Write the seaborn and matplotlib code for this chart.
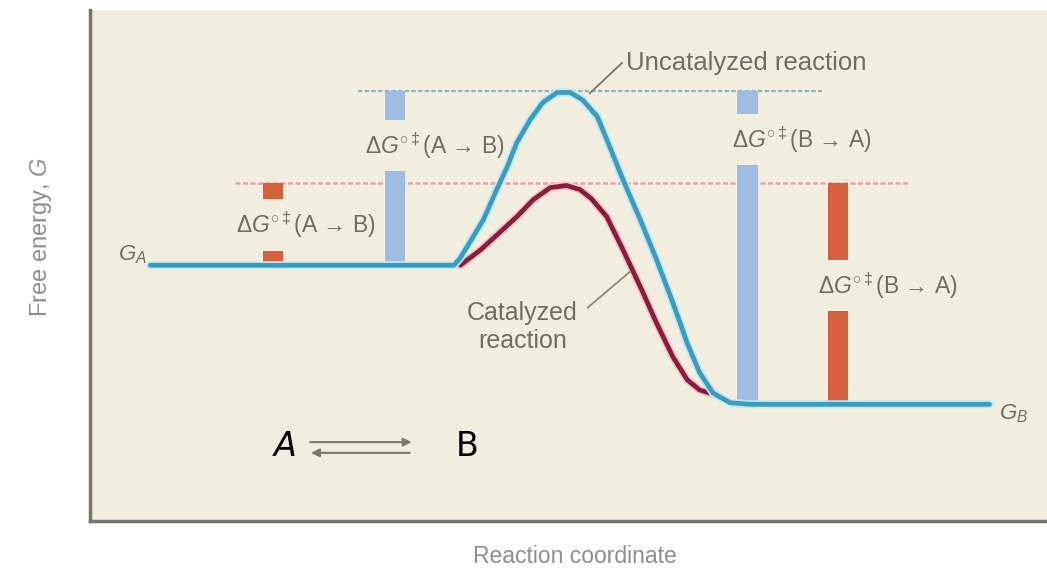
import matplotlib
matplotlib.use("Agg")
import matplotlib.pyplot as plt
import matplotlib.patheffects as pe
import seaborn as sns

# Free energy profile (reaction coordinate 0-100, energy 0-100)
uncat_x = [6.3, 38.0, 38.6, 39.4, 41.1, 42.5, 43.6, 44.6, 46.0, 47.3, 48.8, 50.2,
           51.5, 53.0, 54.0, 55.7, 57.5, 59.2, 60.9, 62.4, 63.7, 65.1, 66.9, 69.0,
           94.0]
uncat_y = [50.0, 50.0, 51.2, 53.6, 58.9, 64.8, 69.3, 74.0, 78.5, 81.8, 83.8, 83.8,
           82.3, 79.1, 74.6, 66.7, 58.9, 51.1, 42.7, 34.8, 29.0, 25.0, 23.1, 22.8,
           22.8]
cat_x = [38.7, 40.8, 42.8, 44.6, 46.3, 48.1, 49.8, 51.2, 52.4, 54.0, 55.7, 57.5,
         59.2, 60.9, 62.4, 63.7, 65.1]
cat_y = [50.0, 53.0, 56.4, 59.5, 62.8, 65.2, 65.6, 64.8, 63.0, 59.5, 53.0, 45.8,
         38.7, 32.1, 27.6, 25.6, 24.8]

G_A = 50.0
G_B = 22.8
uncat_peak = 84.0
cat_peak = 66.0

# activation energy bars: position and bottom (top is the peak level)
blue_bar_x = [31.9, 68.7]
blue_bar_bottom = [G_A, G_B]
red_bar_x = [19.1, 78.2]
red_bar_bottom = [G_A, G_B]

bar_labels_blue = [r"Δ$G^{\circ\ddagger}$(A → B)", r"Δ$G^{\circ\ddagger}$(B → A)"]
bar_labels_red = [r"Δ$G^{\circ\ddagger}$(A → B)", r"Δ$G^{\circ\ddagger}$(B → A)"]

panel = "#f2eedf"
blue = "#3a9dbd"
maroon = "#8a1c3c"
bar_blue = "#9ebde3"
bar_red = "#d6603d"
grey_text = "#6e6e66"

sns.set_theme(style="white")
plt.rcParams["font.family"] = ["Liberation Sans", "DejaVu Sans"]
plt.rcParams["mathtext.fontset"] = "custom"
plt.rcParams["mathtext.rm"] = "Liberation Sans"
plt.rcParams["mathtext.it"] = "Liberation Sans:italic"

fig = plt.figure(figsize=(10.47, 5.68), dpi=100)
ax = fig.add_axes([0.086, 0.083, 0.914, 0.9])
ax.set_facecolor(panel)
ax.set_xlim(0, 100)
ax.set_ylim(0, 100)

# reference energy levels (dotted)
ax.hlines(uncat_peak, 28.0, 76.5, color="#8fb5c6", lw=1.6, linestyles=(0, (2, 1)), zorder=1)
ax.hlines(cat_peak, 15.2, 85.7, color="#e3a3aa", lw=1.8, linestyles=(0, (2, 1)), zorder=1)

# bars
ax.bar(blue_bar_x, [uncat_peak - b for b in blue_bar_bottom], bottom=blue_bar_bottom,
       width=2.1, color=bar_blue, linewidth=0, zorder=2)
ax.bar(red_bar_x, [cat_peak - b for b in red_bar_bottom], bottom=red_bar_bottom,
       width=2.1, color=bar_red, linewidth=0, zorder=2)

# labels over bars (panel-coloured box leaves the gap in the bar)
box = dict(boxstyle="square,pad=0.45", fc=panel, ec="none")
lab_pos_blue = [(36.0, 73.4), (74.4, 74.6)]
lab_pos_red = [(22.5, 57.9), (83.4, 46.0)]
for (x, y), s in zip(lab_pos_blue, bar_labels_blue):
    ax.text(x, y, s, ha="center", va="center", fontsize=16.5, color=grey_text, bbox=box, zorder=3)
for (x, y), s in zip(lab_pos_red, bar_labels_red):
    ax.text(x, y, s, ha="center", va="center", fontsize=16.5, color=grey_text, bbox=box, zorder=3)

# curves
sns.lineplot(x=cat_x, y=cat_y, ax=ax, color=maroon, lw=3.4, zorder=4,
             solid_joinstyle="round", solid_capstyle="round",
             path_effects=[pe.withStroke(linewidth=5.8, foreground="#f4c4cc")])
sns.lineplot(x=uncat_x, y=uncat_y, ax=ax, color=blue, lw=3.4, zorder=5,
             solid_joinstyle="round", solid_capstyle="round",
             path_effects=[pe.withStroke(linewidth=5.8, foreground="#bfe9f2")])

# curve annotations
ax.plot([52.2, 55.6], [83.6, 89.6], color="#77776f", lw=1.3, zorder=6)
ax.text(56.0, 89.6, "Uncatalyzed reaction", ha="left", va="center", fontsize=18.5, color=grey_text)
ax.plot([52.0, 56.4], [41.7, 48.7], color="#8a8a80", lw=1.3, zorder=6)
ax.text(45.2, 38.0, "Catalyzed\nreaction", ha="center", va="center", fontsize=18,
        color=grey_text, linespacing=1.2)

ax.text(5.9, 52.0, "$G_A$", ha="right", va="center", fontsize=16, color=grey_text)
ax.text(95.0, 21.0, "$G_B$", ha="left", va="center", fontsize=16, color=grey_text)

# A <=> B
ax.text(20.4, 14.6, "A", ha="center", va="center", fontsize=24, color="black",
        family=["DejaVu Sans"], style="italic")
ax.text(39.4, 14.6, "B", ha="center", va="center", fontsize=24, color="black",
        family=["DejaVu Sans"])
ax.annotate("", xy=(33.9, 15.4), xytext=(22.7, 15.4),
            arrowprops=dict(arrowstyle="-|>", color="#7a7a72", lw=1.5, mutation_scale=12))
ax.annotate("", xy=(22.8, 13.3), xytext=(33.7, 13.3),
            arrowprops=dict(arrowstyle="-|>", color="#7a7a72", lw=1.5, mutation_scale=12))

ax.set_xticks([])
ax.set_yticks([])
for side in ["top", "right"]:
    ax.spines[side].set_visible(False)
for side in ["left", "bottom"]:
    ax.spines[side].set_color("#76766c")
    ax.spines[side].set_linewidth(2.5)

ax.set_xlabel("Reaction coordinate", fontsize=16.5, color="#8e8e8a", va="center")
ax.set_ylabel("Free energy, $G$", fontsize=17, color="#8e8e8a")
ax.xaxis.set_label_coords(0.507, -0.07)
ax.yaxis.set_label_coords(-0.038, 0.555)

fig.savefig("out.png", dpi=100)
